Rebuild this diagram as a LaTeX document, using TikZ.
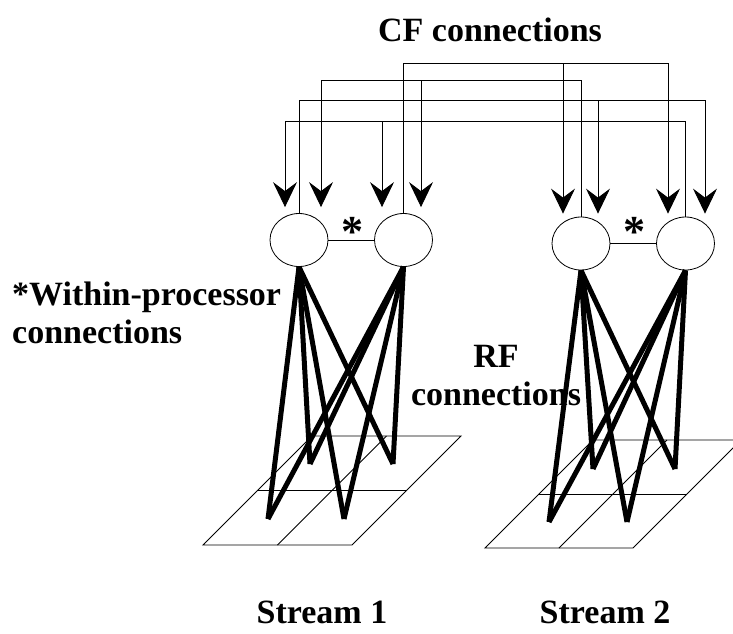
\documentclass[tikz,border=0pt]{standalone}
\usepackage{fontspec}
\setmainfont{Liberation Serif}
\usetikzlibrary{shapes.geometric,arrows.meta,calc}

\begin{document}
\begin{tikzpicture}[x=1pt,y=-1pt,
    proc/.style={draw,ellipse,minimum width=58pt,minimum height=53pt,inner sep=0pt,line width=0.8pt},
    cf/.style={line width=0.9pt},
    cfarrow/.style={line width=0.9pt,-{Stealth[length=25pt,width=24pt,inset=9pt]}},
    rf/.style={line width=5pt},
    griglia/.style={line width=0.9pt},
    etichetta/.style={font=\fontsize{34}{38}\selectfont\bfseries,inner sep=0pt}]

    \useasboundingbox (0,0) rectangle (733,633);

    % etichette
    \node[etichetta,anchor=base] (cftxt) at (490,41) {CF connections};
    \node[etichetta,anchor=base west,align=left] (within) at (12,343) {*Within-processor\\connections};
    \node[etichetta,anchor=base,align=center] (rftxt) at (496,405) {RF\\connections};
    \node[etichetta,anchor=base] (s1) at (322,623) {Stream 1};
    \node[etichetta,anchor=base] (s2) at (605,623) {Stream 2};

    % processori
    \node[proc] (p1a) at (299,240) {};
    \node[proc] (p1b) at (403.5,240) {};
    \node[proc] (p2a) at (581,243.5) {};
    \node[proc] (p2b) at (685.5,243.5) {};

    % connessioni interne
    \draw[cf] (p1a) -- (p1b);
    \draw[cf] (p2a) -- (p2b);
    \node[etichetta,anchor=base,scale=1.3] (ast1) at (353,246) {*};
    \node[etichetta,anchor=base,scale=1.3] (ast2) at (635,246) {*};

    % livelli delle linee CF
    \coordinate (lvA) at (0,63);
    \coordinate (lvB) at (0,80);
    \coordinate (lvC) at (0,100);
    \coordinate (lvD) at (0,121);

    % punte delle frecce
    \coordinate (t1a) at ($(p1a.north)+(-14,-6)$);
    \coordinate (t1b) at ($(p1a.north)+(22,-6)$);
    \coordinate (t1c) at ($(p1b.north)+(-21.5,-6)$);
    \coordinate (t1d) at ($(p1b.north)+(17.5,-6)$);
    \coordinate (t2a) at ($(p2a.north)+(-18,-3)$);
    \coordinate (t2b) at ($(p2a.north)+(17,-3)$);
    \coordinate (t2c) at ($(p2b.north)+(-17.5,-3)$);
    \coordinate (t2d) at ($(p2b.north)+(19.5,-3)$);

    % connessioni CF
    \draw[cfarrow] (p1b.north) -- (p1b.north |- lvA) -| (t2c);
    \draw[cfarrow] (t2a |- lvA) -- (t2a);
    \draw[cfarrow] (p2a.north) -- (p2a.north |- lvB) -| (t1b);
    \draw[cfarrow] (t1d |- lvB) -- (t1d);
    \draw[cfarrow] (p1a.north) -- (p1a.north |- lvC) -| (t2d);
    \draw[cfarrow] (t2b |- lvC) -- (t2b);
    \draw[cfarrow] (p2b.north) -- (p2b.north |- lvD) -| (t1a);
    \draw[cfarrow] (t1c |- lvD) -- (t1c);

    % griglia stream 1
    \coordinate (g1) at (203,545);
    \draw[griglia] (g1) -- ++(149,0) -- ++(109,-109) -- ++(-149,0) -- cycle;
    \draw[griglia] ($(g1)+(54.5,-54.5)$) -- ++(149,0);
    \draw[griglia] ($(g1)+(74.5,0)$) -- ++(109,-109);

    % griglia stream 2
    \coordinate (g2) at (485,548);
    \draw[griglia] (g2) -- ++(148,0) -- ++(108,-108) -- ++(-148,0) -- cycle;
    \draw[griglia] ($(g2)+(54,-54)$) -- ++(148,0);
    \draw[griglia] ($(g2)+(74,0)$) -- ++(108,-108);

    % centri delle celle
    \coordinate (c1a) at ($(g1)+(65,-26)$);
    \coordinate (c1b) at ($(g1)+(141,-26)$);
    \coordinate (c1c) at ($(g1)+(107,-81)$);
    \coordinate (c1d) at ($(g1)+(190,-81)$);
    \coordinate (c2a) at ($(g2)+(64,-26)$);
    \coordinate (c2b) at ($(g2)+(142,-26)$);
    \coordinate (c2c) at ($(g2)+(108,-79)$);
    \coordinate (c2d) at ($(g2)+(190,-79)$);

    % connessioni RF
    \foreach \p in {p1a,p1b}
        \foreach \c in {c1a,c1b,c1c,c1d}
            \draw[rf] (\p.south) -- (\c);
    \foreach \p in {p2a,p2b}
        \foreach \c in {c2a,c2b,c2c,c2d}
            \draw[rf] (\p.south) -- (\c);

\end{tikzpicture}
\end{document}
